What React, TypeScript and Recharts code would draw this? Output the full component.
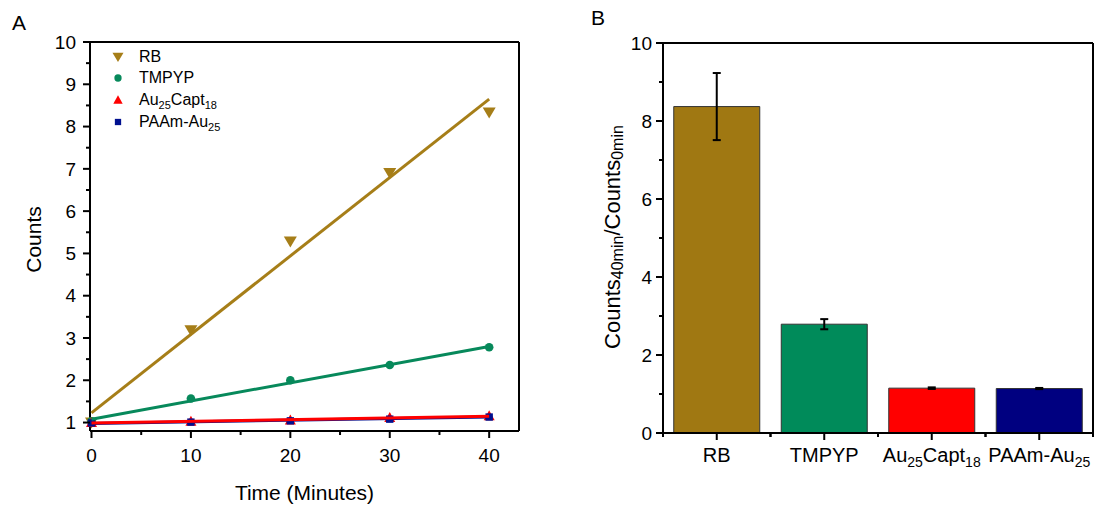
import React from 'react';
import { ScatterChart, Scatter, XAxis, YAxis, Legend, BarChart, Bar, ErrorBar, Cell } from 'recharts';

const FONT = '"Liberation Sans", Arial, Helvetica, sans-serif';

// ---- Panel A data ----
const timePoints = [0, 10, 20, 30, 40];
const rbCounts = [1.0, 3.18, 5.28, 6.9, 8.33];
const tmpypCounts = [1.03, 1.57, 2.0, 2.36, 2.78];
const auCaptCounts = [1.0, 1.03, 1.06, 1.12, 1.16];
const paamCounts = [0.99, 1.01, 1.04, 1.08, 1.13];

const fitX = [0, 40];
const rbFit = [1.23, 8.65];
const tmpypFit = [1.08, 2.8];
const auCaptFit = [0.99, 1.15];
const paamFit = [0.98, 1.13];

const seriesNames = ['RB', 'TMPYP', 'Au25Capt18', 'PAAm-Au25'];
const markerColors = ['#A67E18', '#07895B', '#FF0000', '#00108F'];
const barColors = ['#A07812', '#008B5A', '#FF0000', '#000080'];

const xTicks = [0, 10, 20, 30, 40];
const xMinorTicks = [5, 15, 25, 35];
const yTicks = [1, 2, 3, 4, 5, 6, 7, 8, 9, 10];
const yMinorTicks = [1.5, 2.5, 3.5, 4.5, 5.5, 6.5, 7.5, 8.5, 9.5];
const xDomain = [-0.15, 43];
const yDomain = [0.8, 10];

// ---- Panel B data ----
const ratioCategories = seriesNames;
const ratioValues = [8.37, 2.79, 1.15, 1.14];
const ratioErrors = [0.86, 0.13, 0.02, 0.015];
const ratioTicks = [0, 2, 4, 6, 8, 10];
const ratioMinorTicks = [1, 3, 5, 7, 9];
const ratioDomain = [0, 10];

const zip = (xs: number[], ys: number[]) => xs.map((x, i) => ({ x, y: ys[i] }));
const pointSets = [
  zip(timePoints, rbCounts),
  zip(timePoints, tmpypCounts),
  zip(timePoints, auCaptCounts),
  zip(timePoints, paamCounts),
];
const fitSets = [zip(fitX, rbFit), zip(fitX, tmpypFit), zip(fitX, auCaptFit), zip(fitX, paamFit)];
const ratioData = ratioCategories.map((name, i) => ({ name, value: ratioValues[i], error: ratioErrors[i] }));

const splitSub = (s: string) =>
  s.split(/(\d+)/).filter(Boolean).map((t) => ({ t, sub: /^\d+$/.test(t) }));

function svgParts(s: string, size: number, subSize: number, shift: number) {
  let off = 0;
  return splitSub(s).map((p, i) => {
    const target = p.sub ? shift : 0;
    const dy = target - off;
    off = target;
    return (
      <tspan key={i} dy={dy} fontSize={p.sub ? subSize : size}>
        {p.t}
      </tspan>
    );
  });
}

function Marker({ kind, cx, cy, s = 1 }: { kind: number; cx: number; cy: number; s?: number }) {
  const c = markerColors[kind];
  if (kind === 0) {
    return <path d={`M${cx - 6.5 * s},${cy - 5 * s} L${cx + 6.5 * s},${cy - 5 * s} L${cx},${cy + 6 * s} Z`} fill={c} />;
  }
  if (kind === 1) return <circle cx={cx} cy={cy} r={4.3 * s} fill={c} />;
  if (kind === 2) {
    return <path d={`M${cx - 5.5 * s},${cy + 4.5 * s} L${cx + 5.5 * s},${cy + 4.5 * s} L${cx},${cy - 5.5 * s} Z`} fill={c} />;
  }
  return <rect x={cx - 3.7 * s} y={cy - 3.7 * s} width={7.4 * s} height={7.4 * s} fill={c} />;
}

const XTimeTick = (props: any) => {
  const { x, y, payload } = props;
  const major = xTicks.includes(payload.value);
  return (
    <g>
      <line x1={x} x2={x} y1={y} y2={y + (major ? 7 : 4)} stroke="#000" strokeWidth={2} />
      {major && (
        <text x={x} y={y + 31} textAnchor="middle" fontSize={19} fontFamily={FONT} fill="#000">
          {payload.value}
        </text>
      )}
    </g>
  );
};

const YCountTick = (props: any) => {
  const { x, y, payload } = props;
  const major = yTicks.includes(payload.value);
  return (
    <g>
      <line x1={x} x2={x - (major ? 7 : 4)} y1={y} y2={y} stroke="#000" strokeWidth={2} />
      {major && (
        <text x={x - 14} y={y + 6.8} textAnchor="end" fontSize={19} fontFamily={FONT} fill="#000">
          {payload.value}
        </text>
      )}
    </g>
  );
};

const YRatioTick = (props: any) => {
  const { x, y, payload } = props;
  const major = ratioTicks.includes(payload.value);
  return (
    <g>
      <line x1={x} x2={x - (major ? 7 : 4)} y1={y} y2={y} stroke="#000" strokeWidth={2} />
      {major && (
        <text x={x - 11} y={y + 6.8} textAnchor="end" fontSize={19} fontFamily={FONT} fill="#000">
          {payload.value}
        </text>
      )}
    </g>
  );
};

const BAR_PLOT_WIDTH = 430;

const CatTick = (props: any) => {
  const { x, y, payload } = props;
  const half = BAR_PLOT_WIDTH / ratioCategories.length / 2;
  return (
    <g>
      <line x1={x} x2={x} y1={y} y2={y + 7} stroke="#000" strokeWidth={2} />
      <line x1={x - half} x2={x - half} y1={y} y2={y + 4} stroke="#000" strokeWidth={2} />
      <line x1={x + half} x2={x + half} y1={y} y2={y + 4} stroke="#000" strokeWidth={2} />
      <text x={x} y={y + 29} textAnchor="middle" fontSize={20} fontFamily={FONT} fill="#000">
        {svgParts(String(payload.value), 20, 14, 5)}
      </text>
    </g>
  );
};

const LegendBox = () => (
  <div style={{ fontFamily: FONT, fontSize: 16, color: '#000' }}>
    {seriesNames.map((name, i) => (
      <div key={name} style={{ height: 21.6, display: 'flex', alignItems: 'center' }}>
        <svg width={12} height={12} style={{ marginRight: 15, flex: 'none' }}>
          <Marker kind={i} cx={6} cy={6} s={0.85} />
        </svg>
        <span style={{ lineHeight: 1, whiteSpace: 'nowrap' }}>
          {splitSub(name).map((p, j) =>
            p.sub ? (
              <span key={j} style={{ fontSize: 11, position: 'relative', top: 4 }}>
                {p.t}
              </span>
            ) : (
              <span key={j}>{p.t}</span>
            )
          )}
        </span>
      </div>
    ))}
  </div>
);

const frameLine = { stroke: '#000', strokeWidth: 2 };

export default function App() {
  return (
    <div style={{ position: 'absolute', left: 0, top: 0, width: 1107, height: 507, background: '#fff' }}>
      <div style={{ position: 'absolute', left: 0, top: 0 }}>
        <ScatterChart width={540} height={507} margin={{ top: 41, right: 20, bottom: 0, left: 0 }}>
          <XAxis
            type="number"
            dataKey="x"
            domain={xDomain}
            ticks={[...xTicks, ...xMinorTicks]}
            interval={0}
            height={76}
            tickSize={0}
            tickMargin={0}
            tickLine={false}
            axisLine={frameLine}
            tick={(p: any) => <XTimeTick {...p} />}
            label={{
              content: (p: any) => {
                const vb = p.viewBox || { x: 90, width: 429 };
                return (
                  <text x={vb.x + vb.width / 2} y={500} textAnchor="middle" fontSize={21} fontFamily={FONT} fill="#000">
                    Time (Minutes)
                  </text>
                );
              },
            }}
          />
          <XAxis
            xAxisId="top"
            orientation="top"
            type="number"
            domain={xDomain}
            height={1}
            tick={false}
            tickLine={false}
            axisLine={frameLine}
          />
          <YAxis
            type="number"
            dataKey="y"
            domain={yDomain}
            ticks={[...yTicks, ...yMinorTicks]}
            interval={0}
            width={90}
            tickSize={0}
            tickMargin={0}
            tickLine={false}
            axisLine={frameLine}
            tick={(p: any) => <YCountTick {...p} />}
            label={{
              content: (p: any) => {
                const vb = p.viewBox || { y: 42, height: 389 };
                const cy = vb.y + vb.height / 2 + 3;
                return (
                  <g>
                    <text x={12} y={30} fontSize={21} fontFamily={FONT} fill="#000">
                      A
                    </text>
                    <text
                      x={33}
                      y={cy}
                      transform={`rotate(-90 33 ${cy})`}
                      textAnchor="middle"
                      dominantBaseline="central"
                      fontSize={21}
                      fontFamily={FONT}
                      fill="#000"
                    >
                      Counts
                    </text>
                  </g>
                );
              },
            }}
          />
          <YAxis
            yAxisId="right"
            orientation="right"
            type="number"
            domain={yDomain}
            width={1}
            tick={false}
            tickLine={false}
            axisLine={frameLine}
          />
          <Legend
            layout="vertical"
            align="center"
            verticalAlign="middle"
            wrapperStyle={{ left: 112, top: 46, width: 200 }}
            content={() => <LegendBox />}
          />
          {pointSets.map((d, i) => (
            <Scatter
              key={'pts' + i}
              name={seriesNames[i]}
              data={d}
              isAnimationActive={false}
              shape={(p: any) => <Marker kind={i} cx={p.cx} cy={p.cy} />}
            />
          ))}
          {[3, 1, 0, 2].map((i) => (
            <Scatter
              key={'fit' + i}
              name={seriesNames[i] + ' fit'}
              data={fitSets[i]}
              isAnimationActive={false}
              line={{ stroke: markerColors[i], strokeWidth: 3 }}
              lineType="joint"
              shape={() => <g />}
              legendType="none"
            />
          ))}
        </ScatterChart>
      </div>
      <div style={{ position: 'absolute', left: 540, top: 0 }}>
        <BarChart
          width={567}
          height={507}
          data={ratioData}
          margin={{ top: 42, right: 13, bottom: 0, left: 0 }}
          barCategoryGap="10%"
        >
          <XAxis
            dataKey="name"
            height={74}
            interval={0}
            tickSize={0}
            tickMargin={0}
            tickLine={false}
            axisLine={frameLine}
            tick={(p: any) => <CatTick {...p} />}
          />
          <XAxis
            xAxisId="top"
            orientation="top"
            dataKey="name"
            height={1}
            tick={false}
            tickLine={false}
            axisLine={frameLine}
          />
          <YAxis
            type="number"
            domain={ratioDomain}
            ticks={[...ratioTicks, ...ratioMinorTicks]}
            interval={0}
            width={123}
            tickSize={0}
            tickMargin={0}
            tickLine={false}
            axisLine={frameLine}
            tick={(p: any) => <YRatioTick {...p} />}
            label={{
              content: (p: any) => {
                const vb = p.viewBox || { y: 43, height: 390 };
                const cy = vb.y + vb.height / 2 - 1;
                const cx = 612;
                return (
                  <g>
                    <text x={51} y={25} fontSize={21} fontFamily={FONT} fill="#000">
                      B
                    </text>
                    <text
                      x={cx - 540}
                      y={cy}
                      transform={`rotate(-90 ${cx - 540} ${cy})`}
                      textAnchor="middle"
                      dominantBaseline="central"
                      fontSize={22}
                      fontFamily={FONT}
                      fill="#000"
                    >
                      <tspan>Counts</tspan>
                      <tspan dy={5} fontSize={16}>40min</tspan>
                      <tspan dy={-5}>/Counts</tspan>
                      <tspan dy={5} fontSize={16}>0min</tspan>
                    </text>
                  </g>
                );
              },
            }}
          />
          <YAxis
            yAxisId="right"
            orientation="right"
            type="number"
            domain={ratioDomain}
            width={1}
            tick={false}
            tickLine={false}
            axisLine={frameLine}
          />
          <Bar dataKey="value" isAnimationActive={false} stroke="#333" strokeWidth={1}>
            {ratioData.map((d, i) => (
              <Cell key={d.name} fill={barColors[i]} />
            ))}
            <ErrorBar dataKey="error" width={4} stroke="#000" strokeWidth={2} />
          </Bar>
        </BarChart>
      </div>
    </div>
  );
}
